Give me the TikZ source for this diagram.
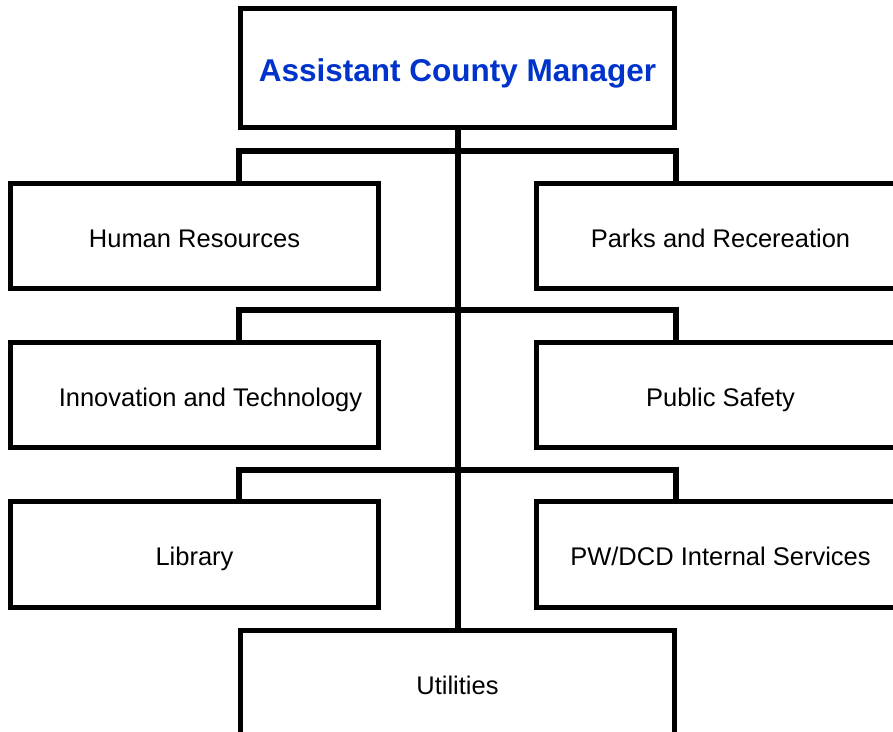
\documentclass[tikz,border=0pt]{standalone}
\usepackage{fontspec}
\setmainfont{Liberation Sans}
\definecolor{titleblue}{RGB}{0,51,204}
\begin{document}
\begin{tikzpicture}[x=1pt,y=-1pt,
  box/.style={draw=black,line width=3.2pt,fill=white,minimum width=#1,minimum height=104pt,inner sep=0pt,
    font=\fontsize{25.5}{30}\selectfont,text=black,text height=27pt,text depth=5pt},
  box/.default=367pt,
  conn/.style={draw=black,line width=6pt}]
\path[use as bounding box,clip] (0,0) rectangle (893,731);
\fill[white] (0,0) rectangle (893,731);
\node[box=433pt,minimum height=118pt,text height=31pt,text depth=5pt,font=\fontsize{31.5}{36}\selectfont\bfseries,text=titleblue] (title) at (457.5,68) {Assistant County Manager};
\node[box=433pt] (util) at (457.5,683) {Utilities};
\node[box] (hr) at (194.5,236) {Human Resources};
\node[box] (parks) at (720.5,236) {Parks and Recereation};
\node[box] (inno) at (194.5,395) {\hspace*{32pt}Innovation and Technology};
\node[box] (safety) at (720.5,395) {Public Safety};
\node[box] (lib) at (194.5,554.5) {Library};
\node[box] (pw) at (720.5,554.5) {PW/DCD Internal Services};
\draw[conn] (title.south) -- (util.north);
\draw[conn,line cap=rect] (hr.north -| title.west) -- ++(0,-31) -| (parks.north -| title.east);
\draw[conn,line cap=rect] (inno.north -| title.west) -- ++(0,-31) -| (safety.north -| title.east);
\draw[conn,line cap=rect] (lib.north -| title.west) -- ++(0,-31) -| (pw.north -| title.east);
\foreach \n in {hr,parks,inno,safety,lib,pw,util,title}{
  \draw[line width=3.2pt] (\n.south west) rectangle (\n.north east);
}
\end{tikzpicture}
\end{document}
